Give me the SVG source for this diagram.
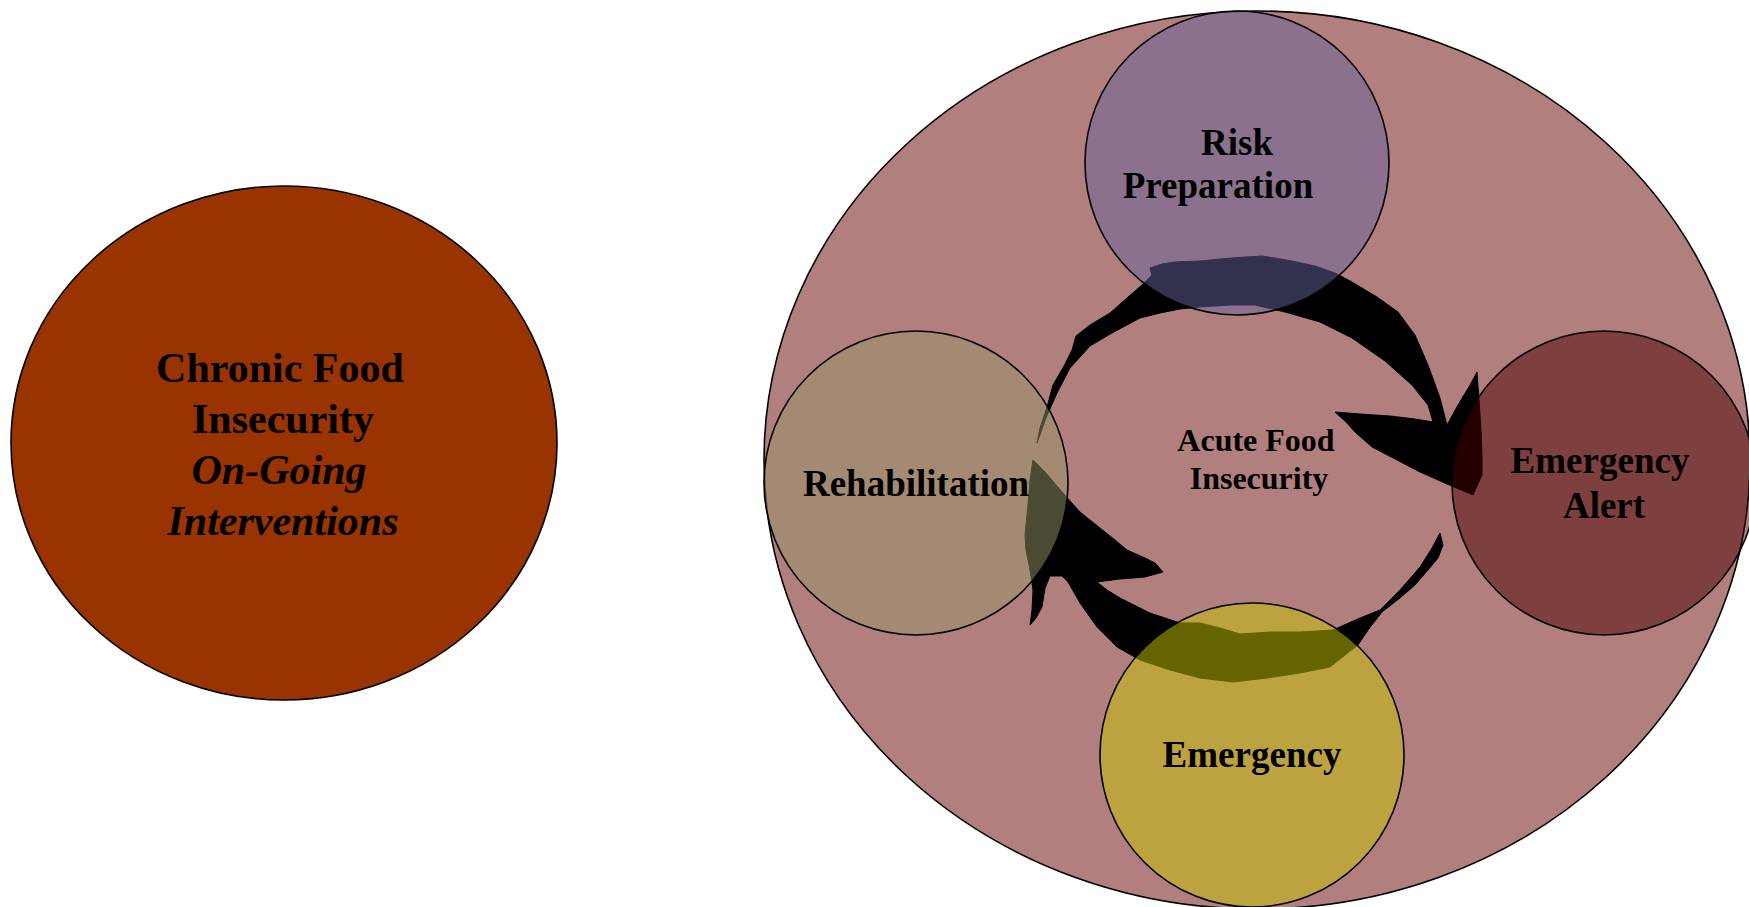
<svg xmlns="http://www.w3.org/2000/svg" width="1749" height="907" viewBox="0 0 1749 907">
  <style>
    .edge { stroke: #000; stroke-width: 1.6; }
    .lbl { font-family: "Liberation Serif", "Times New Roman", serif; font-weight: bold; fill: #000; text-anchor: middle; }
    .big { font-size: 42px; }
    .mid { font-size: 37px; }
    .sm { font-size: 32px; }
    .it { font-style: italic; }
    .brush { fill: #000; stroke: #000; stroke-width: 1; stroke-linejoin: round; }
  </style>

  <rect width="1749" height="907" fill="#ffffff"/>

  <!-- Chronic food insecurity -->
  <g id="chronic">
    <ellipse class="edge" cx="284" cy="443" rx="273" ry="257" fill="#993300"/>
    <text class="lbl big" x="280" y="382">Chronic Food</text>
    <text class="lbl big" x="283" y="433">Insecurity</text>
    <text class="lbl big it" x="279" y="484">On-Going</text>
    <text class="lbl big it" x="283" y="535">Interventions</text>
  </g>

  <!-- Acute food insecurity: outer field -->
  <g id="acute">
    <ellipse class="edge" cx="1257" cy="460" rx="493" ry="449" fill="#660000" fill-opacity="0.5"/>
  </g>

  <!-- brush-stroke cycle arrows -->
  <g id="connectors">
    <path class="brush" d="M1037,443 L1040,428 L1047,407 L1053,385 L1064,366 L1072,350 L1076,336 L1090,325 L1110,313 L1127,298 L1143,284 L1152,275 L1150,268 L1162,264 L1175,262 L1200,261 L1220,259 L1245,257 L1262,256 L1275,258 L1292,261 L1315,266 L1335,273 L1352,282 L1377,297 L1398,312 L1415,335 L1428,365 L1440,398 L1447,425 L1458,405 L1470,385 L1477,372 L1479,400 L1481,430 L1482,455 L1482,475 L1473,495 L1447,484 L1420,472 L1395,459 L1372,447 L1355,432 L1346,422 L1335,412 L1360,414 L1390,416 L1415,419 L1433,422 L1428,405 L1412,385 L1385,361 L1352,338 L1320,322 L1285,312 L1255,305 L1230,305 L1200,307 L1180,309 L1160,313 L1140,318 L1112,333 L1090,346 L1070,368 L1057,393 L1046,418 Z"/>
    <path class="brush" d="M1440,533 L1443,545 L1438,558 L1428,570 L1415,585 L1400,598 L1382,612 L1368,630 L1358,645 L1345,655 L1330,667 L1300,673 L1267,678 L1233,682 L1200,678 L1170,670 L1140,660 L1117,647 L1097,627 L1080,603 L1068,582 L1062,576 L1050,576 L1045,588 L1042,607 L1036,618 L1030,625 L1032,610 L1033,590 L1030,570 L1026,550 L1025,535 L1028,505 L1030,480 L1033,460 L1045,472 L1063,493 L1080,512 L1100,528 L1115,540 L1127,550 L1145,558 L1155,563 L1163,572 L1145,577 L1120,579 L1097,582 L1107,590 L1120,598 L1150,613 L1180,623 L1200,623 L1220,628 L1240,634 L1270,632 L1300,632 L1333,630 L1360,618 L1380,610 L1400,590 L1420,567 L1432,548 Z"/>
  </g>

  <!-- stages of the cycle -->
  <g id="risk-preparation">
    <circle class="edge" cx="1237" cy="163" r="152" fill="#64649e" fill-opacity="0.5"/>
    <text class="lbl mid" x="1237" y="155">Risk</text>
    <text class="lbl mid" x="1218" y="198">Preparation</text>
  </g>

  <g id="emergency-alert">
    <circle class="edge" cx="1604" cy="483" r="152" fill="#4a0000" fill-opacity="0.5"/>
    <text class="lbl mid" x="1600" y="473">Emergency</text>
    <text class="lbl mid" x="1604" y="518">Alert</text>
  </g>

  <g id="emergency">
    <circle class="edge" cx="1252" cy="755" r="152" fill="#c8c800" fill-opacity="0.5"/>
    <text class="lbl mid" x="1252" y="767">Emergency</text>
  </g>

  <g id="rehabilitation">
    <circle class="edge" cx="916" cy="483" r="152" fill="#969666" fill-opacity="0.5"/>
    <text class="lbl mid" x="916" y="496">Rehabilitation</text>
  </g>

  <g id="acute-label">
    <text class="lbl sm" x="1256" y="451">Acute Food</text>
    <text class="lbl sm" x="1259" y="489">Insecurity</text>
  </g>
</svg>
